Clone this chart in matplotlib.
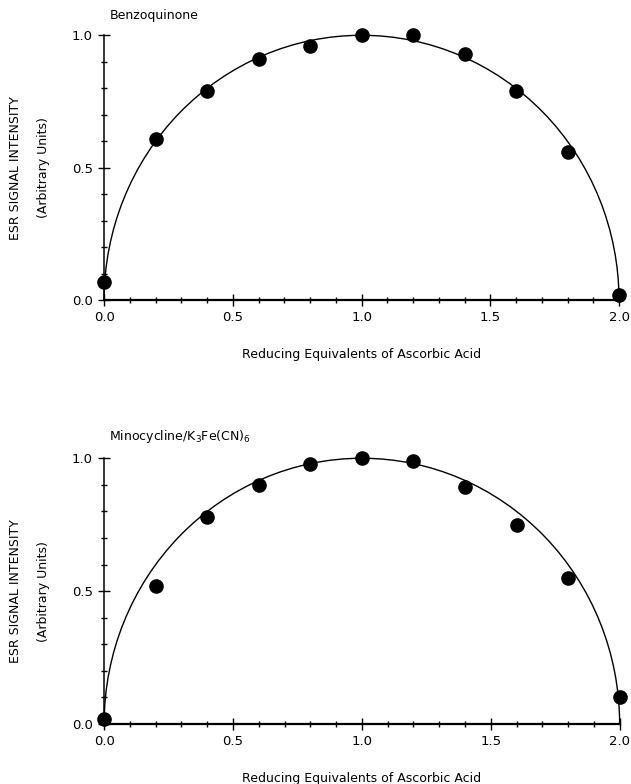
import matplotlib
matplotlib.use("Agg")
import matplotlib.pyplot as plt
from matplotlib.patches import Arc
from matplotlib.ticker import MultipleLocator

# reducing equivalents of ascorbic acid
equiv = [0.0, 0.2, 0.4, 0.6, 0.8, 1.0, 1.2, 1.4, 1.6, 1.8, 2.0]

# ESR signal intensity, arbitrary units
benzo = [0.07, 0.61, 0.79, 0.91, 0.96, 1.00, 1.00, 0.93, 0.79, 0.56, 0.02]
mino = [0.02, 0.52, 0.78, 0.90, 0.98, 1.00, 0.99, 0.89, 0.75, 0.55, 0.10]

titles = ["Benzoquinone", r"Minocycline/K$_3$Fe(CN)$_6$"]
xticks = [0.0, 0.5, 1.0, 1.5, 2.0]
yticks = [0.0, 0.5, 1.0]

# fitted curve (half ellipse through 0 and 2)
fit_center = 1.0
fit_halfwidth = 1.0
fit_height = 1.0

plt.rcParams['font.family'] = ['DejaVu Sans']
fig = plt.figure(figsize=(6.31, 7.84), dpi=100)

boxes = [[0.165, 0.617, 0.816, 0.338],
         [0.165, 0.0765, 0.817, 0.339]]

for box, series, title in zip(boxes, [benzo, mino], titles):
    ax = fig.add_axes(box)
    ax.set_xlim(0, 2)
    ax.set_ylim(0, 1)
    for s in ['top', 'right']:
        ax.spines[s].set_visible(False)
    ax.spines['left'].set_linewidth(1.1)
    ax.spines['bottom'].set_linewidth(1.6)

    arc = Arc((fit_center, 0), 2 * fit_halfwidth, 2 * fit_height,
              theta1=0, theta2=180, color='black', lw=1.0, clip_on=False)
    ax.add_patch(arc)
    ax.plot(equiv, series, 'o', color='black', markersize=9.5, clip_on=False, zorder=5)

    ax.set_xticks(xticks)
    ax.set_xticklabels(["%.1f" % t for t in xticks])
    ax.set_yticks(yticks)
    ax.set_yticklabels(["%.1f" % t for t in yticks])
    ax.xaxis.set_minor_locator(MultipleLocator(0.1))
    ax.yaxis.set_minor_locator(MultipleLocator(0.1))
    ax.tick_params(which='major', direction='inout', length=8, width=1.0, labelsize=9.5, pad=4)
    ax.tick_params(which='minor', direction='inout', length=4, width=1.0)

    ax.set_xlabel("Reducing Equivalents of Ascorbic Acid", fontsize=9, labelpad=17)
    ax.text(0.02, 1.05, title, fontsize=9, ha='left', va='bottom')
    ax.text(-0.172, 0.5, "ESR SIGNAL INTENSITY", rotation=90, fontsize=9,
            ha='center', va='center', transform=ax.transAxes)
    ax.text(-0.118, 0.5, "(Arbitrary Units)", rotation=90, fontsize=9,
            ha='center', va='center', transform=ax.transAxes)

fig.savefig("out.png", dpi=100)
